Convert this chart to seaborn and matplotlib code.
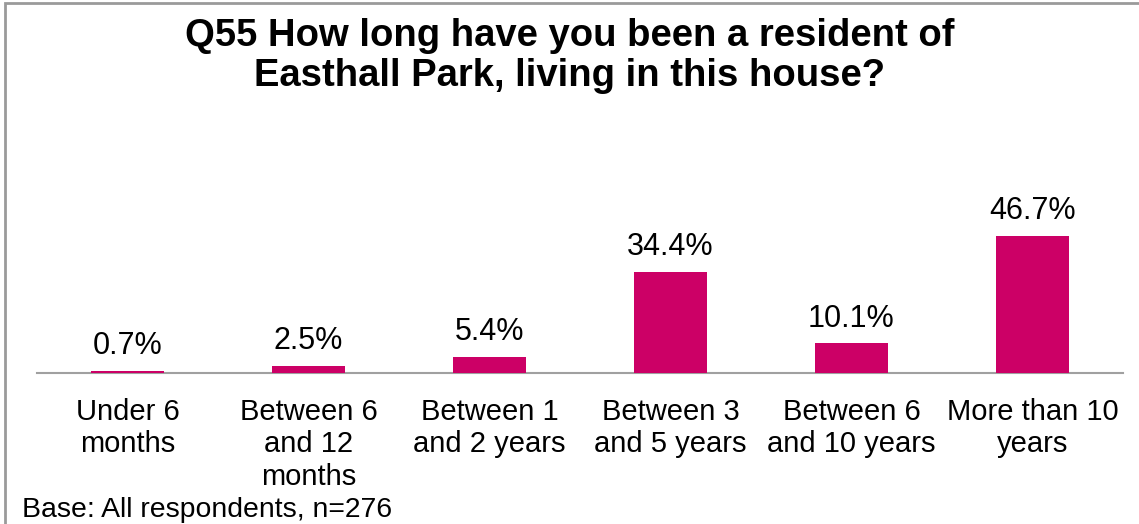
import matplotlib
matplotlib.use("Agg")
import matplotlib.pyplot as plt
import seaborn as sns
import pandas as pd
from matplotlib.patches import Rectangle

categories = ["Under 6\nmonths", "Between 6\nand 12\nmonths", "Between 1\nand 2 years",
              "Between 3\nand 5 years", "Between 6\nand 10 years", "More than 10\nyears"]
values = [0.7, 2.5, 5.4, 34.4, 10.1, 46.7]
value_labels = ["0.7%", "2.5%", "5.4%", "34.4%", "10.1%", "46.7%"]

sns.set_theme(style="white")
plt.rcParams["font.family"] = ["Liberation Sans", "DejaVu Sans"]
plt.rcParams["text.color"] = "black"

W, H = 1139, 524
fig = plt.figure(figsize=(W / 100, H / 100), dpi=100)
ax = fig.add_axes([37 / W, 1 - 373 / H, (1123 - 37) / W, (373 - 100) / H])

df = pd.DataFrame({"cat": categories, "val": values})
sns.barplot(data=df, x="cat", y="val", color="#CC0066", width=0.4, ax=ax,
            saturation=1, edgecolor="none", zorder=3)

ax.set_ylim(0, 273 / 2.93)
ax.set_xlim(-0.5, len(categories) - 0.5)
for i, (v, lab) in enumerate(zip(values, value_labels)):
    ax.annotate(lab, (i, v), xytext=(0, 7), textcoords="offset points",
                ha="center", va="bottom", fontsize=22, color="black")

ax.set_xlabel("")
ax.set_ylabel("")
ax.set_yticks([])
ax.tick_params(axis="x", length=0, pad=18, labelsize=21, colors="black")
for lbl in ax.get_xticklabels():
    lbl.set_linespacing(1.2)
for s in ["top", "right", "left"]:
    ax.spines[s].set_visible(False)
ax.spines["bottom"].set_color("#a0a0a0")
ax.spines["bottom"].set_linewidth(1.5)
ax.spines["bottom"].set_zorder(1)

fig.text(0.5, 1 - 18 / H, "Q55 How long have you been a resident of\nEasthall Park, living in this house?",
         ha="center", va="top", fontsize=27.5, fontweight="bold", linespacing=1.15, color="black")
fig.text(22 / W, 1 - 510 / H, "Base: All respondents, n=276", ha="left", va="center",
         fontsize=20.4, color="black")

fig.patches.append(Rectangle((4.5 / W, -0.1), 1.2, 1 - 3.5 / H + 0.1, transform=fig.transFigure,
                             fill=False, edgecolor="#9a9a9a", linewidth=2))

fig.savefig("out.png", dpi=100)
